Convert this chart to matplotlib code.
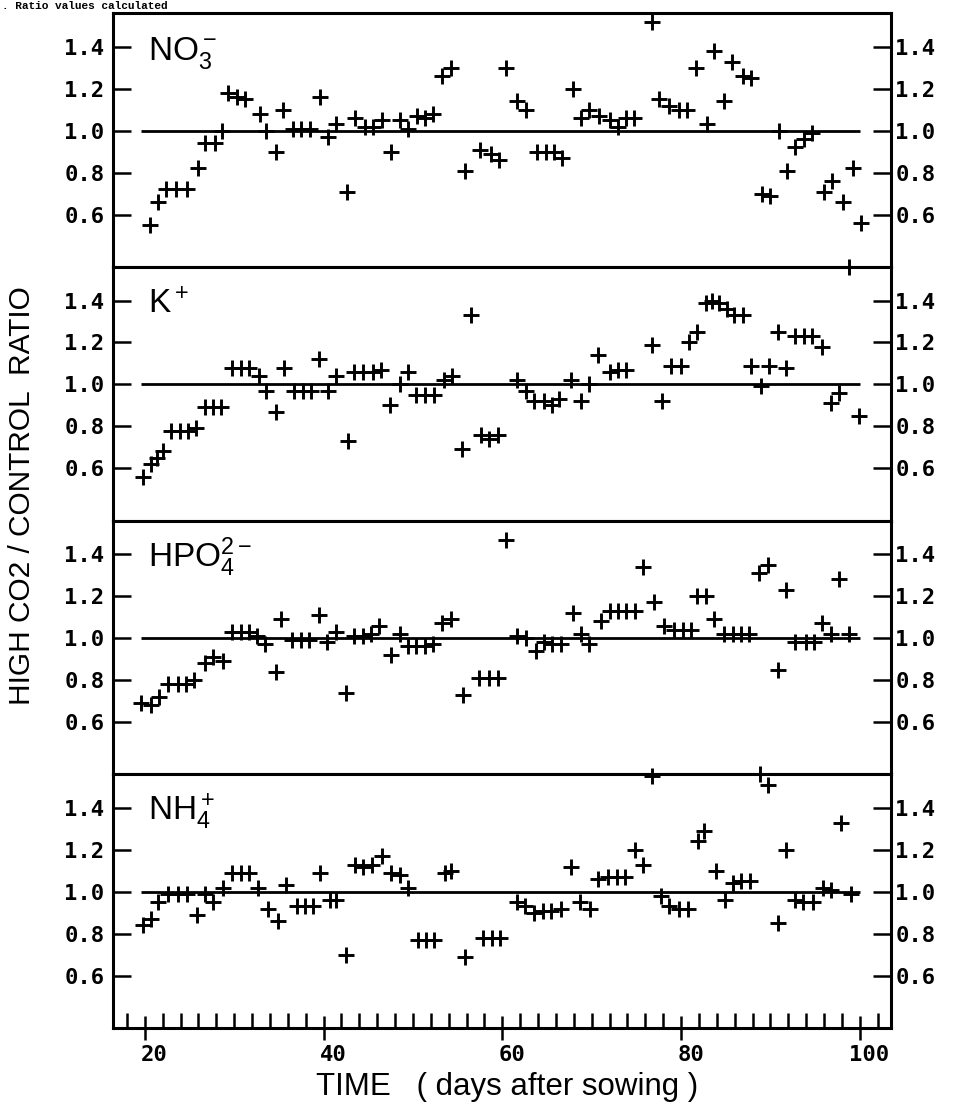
import matplotlib
matplotlib.use("Agg")
import matplotlib.pyplot as plt
import matplotlib.transforms as mtransforms
from matplotlib.ticker import MultipleLocator, FixedLocator

# ---- data: high-CO2 / control uptake ratio vs. days after sowing ----
no3_days = [20.6, 21.5, 22.4, 23.5, 24.7, 26.0, 26.7, 27.8, 28.6, 29.3, 30.3, 31.2, 32.9, 33.6,
            34.7, 35.5, 36.6, 37.5, 38.5, 39.6, 40.5, 41.4, 42.6, 43.5, 44.6, 45.5, 46.5, 47.6,
            48.5, 49.5, 50.4, 51.3, 52.3, 53.2, 54.3, 55.8, 57.5, 58.7, 59.6, 60.4, 61.7, 62.6,
            63.9, 64.9, 65.8, 66.7, 67.9, 68.8, 69.7, 70.8, 72.0, 72.9, 73.8, 74.7, 76.8, 77.5,
            78.7, 79.8, 80.7, 81.7, 82.9, 83.7, 84.8, 85.7, 86.9, 87.8, 89.1, 90.0, 91.0, 91.9,
            92.8, 93.8, 94.7, 96.0, 96.9, 98.1, 99.2, 100.1]
no3_ratio = [0.55, 0.66, 0.72, 0.72, 0.72, 0.82, 0.94, 0.94, 1.00, 1.18, 1.16, 1.15, 1.08, 1.00,
             0.90, 1.10, 1.01, 1.01, 1.01, 1.16, 0.97, 1.03, 0.71, 1.06, 1.02, 1.02, 1.05, 0.90,
             1.05, 1.01, 1.07, 1.06, 1.08, 1.26, 1.30, 0.81, 0.91, 0.89, 0.86, 1.30, 1.14, 1.10,
             0.90, 0.90, 0.90, 0.87, 1.20, 1.06, 1.10, 1.07, 1.05, 1.02, 1.06, 1.06, 1.52, 1.15,
             1.12, 1.10, 1.10, 1.30, 1.03, 1.38, 1.14, 1.33, 1.26, 1.25, 0.70, 0.69, 1.00, 0.81,
             0.92, 0.96, 0.99, 0.71, 0.76, 0.66, 0.82, 0.56]

k_days = [19.8, 20.7, 21.4, 22.0, 22.9, 23.9, 24.8, 25.7, 26.7, 27.6, 28.5, 29.8, 30.8, 31.7,
          32.8, 33.6, 34.7, 35.6, 36.7, 37.7, 38.6, 39.5, 40.5, 41.4, 42.7, 43.4, 44.4, 45.5,
          46.4, 47.4, 48.5, 49.4, 50.3, 51.4, 52.4, 53.5, 54.4, 55.5, 56.5, 57.6, 58.5, 59.5,
          61.7, 62.6, 63.6, 64.7, 65.6, 66.4, 67.7, 68.8, 69.7, 70.7, 72.0, 72.9, 73.8, 76.8,
          77.9, 78.9, 80.0, 80.9, 81.8, 82.8, 83.5, 84.3, 85.2, 85.9, 86.9, 87.8, 88.9, 89.9,
          90.8, 91.7, 92.7, 93.8, 94.7, 95.8, 96.8, 97.7, 98.8, 99.9]
k_ratio = [0.56, 0.62, 0.65, 0.68, 0.78, 0.78, 0.78, 0.79, 0.89, 0.89, 0.89, 1.08, 1.08, 1.08,
           1.04, 0.97, 0.87, 1.08, 0.97, 0.97, 0.97, 1.12, 0.97, 1.04, 0.73, 1.06, 1.06, 1.06,
           1.07, 0.90, 1.00, 1.06, 0.95, 0.95, 0.95, 1.02, 1.04, 0.69, 1.33, 0.76, 0.74, 0.76,
           1.02, 0.97, 0.92, 0.92, 0.90, 0.93, 1.02, 0.92, 1.00, 1.14, 1.06, 1.07, 1.07, 1.19,
           0.92, 1.09, 1.09, 1.20, 1.25, 1.39, 1.40, 1.39, 1.36, 1.33, 1.33, 1.09, 0.99, 1.09,
           1.25, 1.08, 1.23, 1.23, 1.23, 1.18, 0.91, 0.96, 1.56, 0.85]

hpo4_days = [19.6, 20.7, 21.6, 22.6, 23.7, 24.6, 25.5, 26.7, 27.6, 28.7, 29.8, 30.8, 31.7, 32.6,
             33.4, 34.7, 35.2, 36.5, 37.5, 38.4, 39.5, 40.4, 41.4, 42.5, 43.4, 44.4, 45.3, 46.2,
             47.5, 48.5, 49.4, 50.3, 51.3, 52.2, 53.3, 54.3, 55.6, 57.4, 58.5, 59.5, 60.4, 61.7,
             62.6, 63.8, 64.7, 65.6, 66.6, 67.9, 68.8, 69.7, 71.0, 72.0, 72.9, 73.8, 74.8, 75.7,
             77.0, 78.1, 79.2, 80.2, 81.1, 81.8, 82.8, 83.7, 84.8, 85.8, 86.7, 87.6, 88.7, 89.7,
             90.8, 91.7, 92.8, 94.0, 94.9, 95.8, 96.8, 97.7, 98.8]
hpo4_ratio = [0.69, 0.68, 0.72, 0.78, 0.78, 0.78, 0.80, 0.88, 0.91, 0.89, 1.03, 1.03, 1.03, 1.01,
              0.97, 0.84, 1.09, 0.99, 0.99, 0.99, 1.11, 0.98, 1.03, 0.74, 1.01, 1.01, 1.02, 1.06,
              0.92, 1.02, 0.96, 0.96, 0.96, 0.97, 1.07, 1.09, 0.73, 0.81, 0.81, 0.81, 1.47, 1.01,
              1.00, 0.94, 0.98, 0.97, 0.97, 1.12, 1.02, 0.97, 1.08, 1.13, 1.13, 1.13, 1.13, 1.34,
              1.17, 1.06, 1.04, 1.04, 1.04, 1.20, 1.20, 1.09, 1.02, 1.02, 1.02, 1.02, 1.31, 1.35,
              0.85, 1.23, 0.98, 0.98, 0.98, 1.07, 1.02, 1.28, 1.02]

nh4_days = [19.8, 20.7, 21.5, 22.6, 23.7, 24.7, 25.8, 26.7, 27.6, 28.7, 29.7, 30.8, 31.7, 32.7,
            33.8, 34.9, 35.8, 37.0, 37.9, 38.8, 39.6, 40.7, 41.4, 42.5, 43.5, 44.4, 45.4, 46.5,
            47.6, 48.5, 49.5, 50.6, 51.5, 52.4, 53.6, 54.3, 55.8, 57.8, 58.8, 59.7, 61.6, 62.5,
            63.6, 64.6, 65.5, 66.6, 67.7, 68.7, 69.8, 70.7, 71.8, 72.8, 73.7, 74.8, 75.7, 76.7,
            77.8, 78.7, 79.8, 80.8, 81.9, 82.6, 83.9, 84.9, 85.8, 86.7, 87.7, 88.8, 89.7, 90.8,
            91.8, 92.7, 93.6, 94.8, 95.9, 96.8, 97.9, 99.0]
nh4_ratio = [0.84, 0.87, 0.95, 0.99, 0.99, 0.99, 0.89, 0.99, 0.95, 1.02, 1.09, 1.09, 1.09, 1.02,
             0.92, 0.86, 1.03, 0.93, 0.93, 0.93, 1.09, 0.96, 0.96, 0.70, 1.13, 1.12, 1.13, 1.17,
             1.09, 1.08, 1.02, 0.77, 0.77, 0.77, 1.09, 1.10, 0.69, 0.78, 0.78, 0.78, 0.95, 0.93,
             0.90, 0.91, 0.91, 0.92, 1.12, 0.95, 0.92, 1.06, 1.07, 1.07, 1.07, 1.20, 1.13, 1.55,
             0.98, 0.93, 0.92, 0.92, 1.24, 1.29, 1.10, 0.96, 1.04, 1.05, 1.05, 1.56, 1.51, 0.85,
             1.20, 0.96, 0.95, 0.95, 1.02, 1.01, 1.33, 0.99]

ion_labels = [r"$\mathrm{NO_3^-}$", r"$\mathrm{K^+}$", r"$\mathrm{HPO_4^{2-}}$", r"$\mathrm{NH_4^+}$"]
y_ticks = [0.6, 0.8, 1.0, 1.2, 1.4]
y_tick_labels = ["0.6", "0.8", "1.0", "1.2", "1.4"]
x_major = [20, 40, 60, 80, 100]
reference_ratio = 1.0

series = [(no3_days, no3_ratio), (k_days, k_ratio), (hpo4_days, hpo4_ratio), (nh4_days, nh4_ratio)]

# ---- style ----
plt.rcParams["mathtext.fontset"] = "custom"
plt.rcParams["mathtext.rm"] = "Liberation Sans"
plt.rcParams["mathtext.it"] = "Liberation Sans"
plt.rcParams["mathtext.default"] = "rm"
tick_font = dict(family="DejaVu Sans Mono", weight="bold", size=16)

fig = plt.figure(figsize=(9.55, 11.09), dpi=100)
gs = fig.add_gridspec(4, 1, left=0.118, right=0.933, top=0.988, bottom=0.073, hspace=0)

# right-hand tick labels sit a little closer to the frame than the left-hand ones
right_label_shift = mtransforms.ScaledTranslation(-3 / 72, 0, fig.dpi_scale_trans)
x_label_shift = mtransforms.ScaledTranslation(7 / 72, 0, fig.dpi_scale_trans)

for i, ((days, ratio), label) in enumerate(zip(series, ion_labels)):
    ax = fig.add_subplot(gs[i, 0])
    ax.set_xlim(16.4, 103.5)
    ax.set_ylim(0.35, 1.56)
    ax.hlines(reference_ratio, 19.6, 100, color="black", linewidth=2.0, zorder=2)
    ax.plot(days, ratio, linestyle="none", marker="+", markersize=12,
            markeredgewidth=2.1, color="black", clip_on=False, zorder=3)
    for sp in ax.spines.values():
        sp.set_linewidth(2.2)

    ax.yaxis.set_major_locator(FixedLocator(y_ticks))
    ax.set_yticklabels(y_tick_labels, fontdict=tick_font)
    ax.tick_params(axis="y", which="major", direction="in", length=13, width=1.8,
                   left=True, right=True, labelleft=True, labelright=True, pad=6)
    for t in ax.yaxis.get_major_ticks():
        t.label2.set_transform(t.label2.get_transform() + right_label_shift)

    ax.text(0.046, 0.817, label, transform=ax.transAxes, fontsize=24,
            ha="left", va="baseline")

    if i < 3:
        ax.tick_params(axis="x", which="both", bottom=False, top=False, labelbottom=False)
    else:
        ax.xaxis.set_major_locator(FixedLocator(x_major))
        ax.xaxis.set_minor_locator(MultipleLocator(2))
        ax.set_xticklabels([str(v) for v in x_major], fontdict=tick_font)
        ax.tick_params(axis="x", which="major", direction="inout", length=17, width=1.8, pad=4)
        ax.tick_params(axis="x", which="minor", direction="in", length=11, width=1.8)
        for lab in ax.get_xticklabels():
            lab.set_transform(lab.get_transform() + x_label_shift)

fig.text(22 / 955, 1 - 496 / 1109, "HIGH CO2 / CONTROL  RATIO", rotation=90,
         ha="center", va="center", fontsize=21.5, family="Liberation Sans")
fig.text(507 / 955, 1 - 1087 / 1109, "TIME   ( days after sowing )",
         ha="center", va="center", fontsize=22.5, family="Liberation Sans")
fig.text(0.002, 0.9995, ". Ratio values calculated", ha="left", va="top",
         fontsize=8, family="Liberation Mono", weight="bold")

fig.savefig("out.png", dpi=100)
